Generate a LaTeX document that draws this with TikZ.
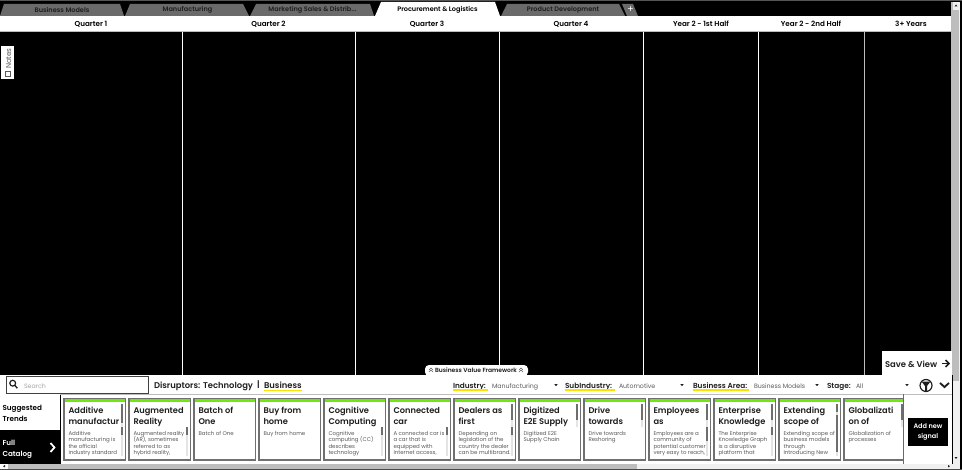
\documentclass[tikz,border=0pt]{standalone}
\usepackage{fontspec}
\setmainfont{Poppins}[BoldFont={Poppins SemiBold}]
\definecolor{tabgray}{HTML}{6A6A6A}
\definecolor{tabtext}{HTML}{1E1E1E}
\definecolor{bodytext}{HTML}{5A5A5A}
\definecolor{cardedge}{HTML}{707070}
\definecolor{cardgreen}{HTML}{6FE80E}
\definecolor{hiyellow}{HTML}{FFE100}
\definecolor{thumb}{HTML}{6E6E6E}
\definecolor{track}{HTML}{E4E4E4}
\definecolor{sbar}{HTML}{BDBDBD}
\definecolor{strack}{HTML}{F0F0F0}
\tikzset{
  x=0.75pt,y=-0.75pt,
  lbl/.style={inner sep=0pt,outer sep=0pt,font=\fontsize{5.4}{6}\selectfont\bfseries,text=black},
  tablbl/.style={lbl,text=tabtext,font=\fontsize{4.9}{6}\selectfont\bfseries},
  filterkey/.style={lbl,anchor=mid west,font=\fontsize{5.5}{6}\selectfont\bfseries,text=tabtext},
  filterval/.style={lbl,anchor=mid west,font=\fontsize{4.7}{6}\selectfont,text=bodytext},
  heading/.style={lbl,font=\fontsize{6.3}{7}\selectfont\bfseries,text=tabtext},
  title/.style={lbl,anchor=mid west,font=\fontsize{6.2}{7}\selectfont\bfseries,text=tabtext},
  cbody/.style={lbl,anchor=mid west,font=\fontsize{4.1}{5}\selectfont,text=bodytext},
  colline/.style={white,line width=0.9pt},
  carddraw/.style={draw=cardedge,line width=1.1pt,fill=white},
  thumbbar/.style={fill=thumb,draw=none},
  trackbar/.style={fill=track,draw=none},
  yline/.style={hiyellow,line width=0.9pt},
  ddown/.style={fill=tabtext,draw=none},
}
% #1 card left x, #2 title line 1, #3 title line 2, #4..#8 body lines
\newcommand\card[8]{%
  \fill[carddraw] (#1,398.5) rectangle ++(61.5,61.5);
  \fill[cardgreen] (#1+0.5,399) rectangle ++(60.5,3.2);
  \begin{scope}
    \clip (#1+1,399) rectangle ++(56.5,60.5);
    \node[title] (t#1a) at (#1+4.5,410) {#2};
    \node[title] (t#1b) at (#1+4.5,420.5) {#3};
    \node[cbody] (b#1a) at (#1+4.5,431.5) {#4};
    \node[cbody] (b#1b) at (#1+4.5,438) {#5};
    \node[cbody] (b#1c) at (#1+4.5,444.5) {#6};
    \node[cbody] (b#1d) at (#1+4.5,451) {#7};
    \node[cbody] (b#1e) at (#1+4.5,457.5) {#8};
  \end{scope}
}
% #1 card x, #2 title thumb end
\newcommand\tbar[2]{%
  \fill[trackbar] (#1+57,404) rectangle ++(2,23);
  \fill[thumbbar] (#1+57,404) rectangle (#1+59,#2);
}
\newcommand\bbar[3]{%
  \fill[trackbar] (#1+57,#2) rectangle (#1+59,456);
  \fill[thumbbar] (#1+57,#2) rectangle (#1+59,#3);
}
\newcommand\dtri[1]{\fill[ddown] (#1-1.6,384.2) -- (#1+1.6,384.2) -- (#1,386.2) -- cycle;}
\newcommand\vchev[1]{%
  \draw[bodytext,line width=0.4pt] (#1-2,370) -- (#1,368) -- (#1+2,370);
  \draw[bodytext,line width=0.4pt] (#1-2,372) -- (#1,370) -- (#1+2,372);
}
\begin{document}
\begin{tikzpicture}
\useasboundingbox (0,0) rectangle (962,470);
\fill[black] (0,0) rectangle (962,470);
\fill[tabgray!80!black] (0,0) rectangle (962,1);
% tabs
\fill[tabgray] (4,4) -- (120,4) -- (124,16) -- (0,16) -- cycle;
\fill[tabgray] (130,4) -- (243,4) -- (249,16) -- (125,16) -- cycle;
\fill[tabgray] (256,4) -- (370,4) -- (374,16) -- (250,16) -- cycle;
\fill[white] (381,2) -- (495,2) -- (500,16) -- (375,16) -- cycle;
\fill[tabgray] (507,4) -- (619,4) -- (625,16) -- (501,16) -- cycle;
\fill[tabgray] (622,4) -- (633,4) -- (638,16) -- (627,16) -- cycle;
\node[tablbl] (tab1) at (62,9.5) {Business Models};
\node[tablbl] (tab2) at (187.5,9.5) {Manufacturing};
\node[tablbl] (tab3) at (312.5,9.5) {Marketing Sales \& Distrib...};
\node[tablbl,text=black] (tab4) at (437.5,9.5) {Procurement \& Logistics};
\node[tablbl] (tab5) at (563,9.5) {Product Development};
\node[tablbl,text=white,font=\fontsize{7}{7}\selectfont] (tabplus) at (630.5,10) {+};
% header
\fill[white] (0,16) rectangle (952,31);
\fill[sbar] (0,31) rectangle (952,32);
\node[lbl] (q1) at (91,24) {Quarter 1};
\node[lbl] (q2) at (268.5,24) {Quarter 2};
\node[lbl] (q3) at (427,24) {Quarter 3};
\node[lbl] (q4) at (571,24) {Quarter 4};
\node[lbl] (y21) at (701,24) {Year 2 - 1st Half};
\node[lbl] (y22) at (811,24) {Year 2 - 2nd Half};
\node[lbl] (y3) at (911,24) {3+ Years};
% column lines
\foreach \cx in {182.5,355.5,499.5,643.5,758.5}
  \draw[colline] (\cx,32) -- (\cx,375);
\draw[sbar,line width=0.9pt] (864.5,32) -- (864.5,375);
\draw[sbar,line width=0.9pt] (952,2) -- (952,375);
% notes
\fill[white] (1,46) rectangle (14,79);
\node[lbl,rotate=90,font=\fontsize{5.4}{6}\selectfont,text=bodytext,anchor=mid west] (notes) at (7.5,69) {Notes};
\draw[bodytext,line width=0.45pt] (5,71) rectangle (10,76.5);
% lower panel
\fill[white] (0,375) rectangle (952,464);
\fill[white] (882,351) rectangle (952,375);
\node[heading,anchor=mid west] (save) at (885,363.5) {Save \& View};
\draw[tabtext,line width=1.1pt] (942,363.5) -- (948,363.5);
\draw[tabtext,line width=1.1pt] (945.5,360) -- (949,363.5) -- (945.5,367);
% BVF tab
\fill[white,rounded corners=3pt] (425,376) -- (425,365) -- (528,365) -- (528,376) -- cycle;
\node[lbl,font=\fontsize{4.5}{5}\selectfont\bfseries,text=tabtext] (bvf) at (476,370.5) {Business Value Framework};
\vchev{431}
\vchev{521}
% search row
\draw[tabtext!85,line width=0.75pt] (6.5,376.5) rectangle (148,393);
\draw[tabtext,line width=0.9pt] (12.7,383.2) circle (2.9);
\draw[tabtext,line width=1pt] (14.8,385.3) -- (17.3,388.2);
\node[filterval,text=black!35] (search) at (24,385) {Search};
\node[heading,anchor=mid west] (disr) at (154,385) {Disruptors: Technology};
\node[heading] (sep) at (258.5,385) {|};
\node[heading,anchor=mid west] (biz) at (264,385) {Business};
\draw[yline,line width=1.1pt] (264,390.5) -- (302,390.5);
% filters
\node[filterkey] (ind) at (453,385) {Industry:};
\draw[yline] (453,390) -- (488,390);
\node[filterval] (indv) at (492,385) {Manufacturing};
\dtri{556}
\node[filterkey] (sub) at (565,385) {SubIndustry:};
\draw[yline] (565,390) -- (615,390);
\node[filterval] (subv) at (619,385) {Automotive};
\dtri{682}
\node[filterkey] (area) at (693,385) {Business Area:};
\draw[yline] (693,390) -- (749,390);
\node[filterval] (areav) at (754,385) {Business Models};
\dtri{817}
\node[filterkey] (stage) at (827,385) {Stage:};
\node[filterval] (stagev) at (856,385) {All};
\dtri{907}
% filter icon and chevron
\draw[tabtext,line width=0.9pt] (926,385.5) circle (6);
\fill[tabtext] (921.5,381.5) -- (930.5,381.5) -- (927,386) -- (927,391) -- (925,391) -- (925,386) -- cycle;
\draw[tabtext,line width=1.4pt] (940,383) -- (944.5,387) -- (949,383);
\fill[sbar] (60,394) rectangle (952,395);
% left panel
\fill[black] (59.5,395) rectangle (60.7,464);
\fill[black] (0,430) rectangle (60.7,464);
\node[lbl,anchor=mid west] (sug1) at (2.5,407) {Suggested};
\node[lbl,anchor=mid west] (sug2) at (2.5,418) {Trends};
\node[lbl,anchor=mid west,text=white] (full1) at (2.5,441.5) {Full};
\node[lbl,anchor=mid west,text=white] (full2) at (2.5,453) {Catalog};
\draw[white,line width=1.3pt] (50.5,443) -- (54.5,447.5) -- (50.5,452);
% cards
\card{64}{Additive}{manufactur}{Additive}{manufacturing is}{the official}{industry standard}{}
\tbar{64}{423}\bbar{64}{427}{435}
\card{129}{Augmented}{Reality}{Augmented reality}{(AR), sometimes}{referred to as}{hybrid reality,}{}
\bbar{129}{427}{435}
\card{194}{Batch of}{One}{Batch of One}{}{}{}{}
\card{259}{Buy from}{home}{Buy from home}{}{}{}{}
\card{324}{Cognitive}{Computing}{Cognitive}{computing (CC)}{describes}{technology}{}
\bbar{324}{427}{435}
\card{389}{Connected}{car}{A connected car is}{a car that is}{equipped with}{Internet access,}{}
\bbar{389}{427}{435}
\card{454}{Dealers as}{first}{Depending on}{legislation of the}{country the dealer}{can be multibrand.}{}
\tbar{454}{420}\bbar{454}{427}{435}
\card{519}{Digitized}{E2E Supply}{Digitized E2E}{Supply Chain}{}{}{}
\tbar{519}{420}
\card{584}{Drive}{towards}{Drive towards}{Reshoring}{}{}{}
\tbar{584}{420}
\card{649}{Employees}{as}{Employees are a}{community of}{potential customer}{very easy to reach,}{}
\tbar{649}{420}\bbar{649}{427}{441}
\card{714}{Enterprise}{Knowledge}{The Enterprise}{Knowledge Graph}{is a disruptive}{platform that}{}
\tbar{714}{420}\bbar{714}{427}{435}
\card{779}{Extending}{scope of}{Extending scope of}{business models}{through}{Introducing New}{}
\tbar{779}{412}\bbar{779}{415}{452}
\card{844}{Globalizati}{on of}{Globalization of}{processes}{}{}{}
\tbar{844}{420}
% right panel
\fill[white] (903,395) rectangle (952,464);
\fill[tabgray] (902.5,394) rectangle (904,464);
\fill[black] (908,418) rectangle (948,446);
\node[lbl,font=\fontsize{4.9}{5}\selectfont\bfseries,text=white] (add1) at (928,426.5) {Add new};
\node[lbl,font=\fontsize{4.9}{5}\selectfont\bfseries,text=white] (add2) at (928,437) {signal};
% right scrollbar
\fill[strack] (953,2) rectangle (960,468);
\fill[sbar] (953,10) rectangle (959,381);
\fill[tabtext] (954.5,6.5) -- (957.5,6.5) -- (956,4.5) -- cycle;
\fill[tabtext] (954.5,457) -- (957.5,457) -- (956,459) -- cycle;
% bottom scrollbar
\fill[strack] (0,464) rectangle (960,468.5);
\fill[sbar] (8,464) rectangle (637,468.5);
\fill[white] (0,464) rectangle (8,468.5);
\fill[tabtext] (3,466.2) -- (5,465) -- (5,467.4) -- cycle;
\fill[tabtext] (948,465) -- (948,467.4) -- (950,466.2) -- cycle;
\fill[tabgray!70!black] (0,468.5) rectangle (962,470);
\end{tikzpicture}
\end{document}
